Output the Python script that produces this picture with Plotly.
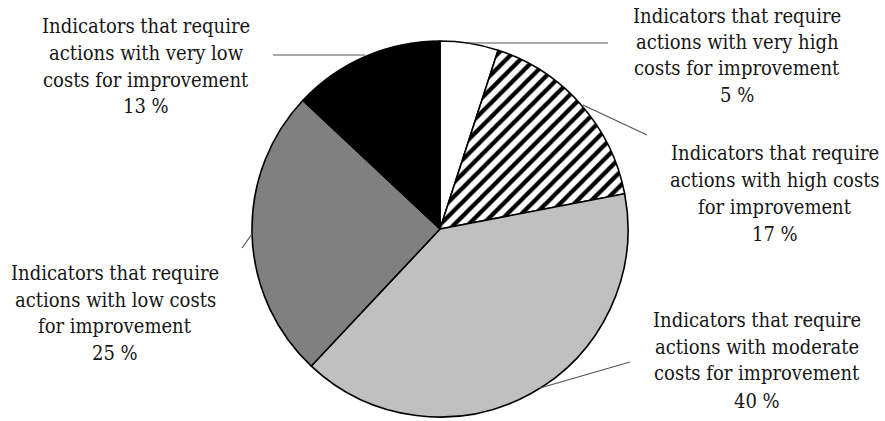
import plotly.graph_objects as go

# ---- data ----
categories = [
    "Indicators that require actions with very high costs for improvement",
    "Indicators that require actions with high costs for improvement",
    "Indicators that require actions with moderate costs for improvement",
    "Indicators that require actions with low costs for improvement",
    "Indicators that require actions with very low costs for improvement",
]
values = [5, 17, 40, 25, 13]
label_lines = [
    ["Indicators that require", "actions with very high", "costs for improvement"],
    ["Indicators that require", "actions with high costs", "for improvement"],
    ["Indicators that require", "actions with moderate", "costs for improvement"],
    ["Indicators that require", "actions with low costs", "for improvement"],
    ["Indicators that require", "actions with very low", "costs for improvement"],
]

# ---- styles / positions ----
W, H = 885, 421
colors = ["#ffffff", "#ffffff", "#c0c0c0", "#808080", "#000000"]
patterns = ["", "/", "", "", ""]
cx, cy, r = 440, 229, 188
# label block centre x and line centre ys (pixels)
label_pos = [
    (737, [16, 42, 68, 95]),
    (775, [153, 180, 207, 234]),
    (757, [320, 347, 373, 401]),
    (115, [273, 300, 326, 353]),
    (146, [26, 53, 80, 106]),
]
leaders = [
    ((469, 43), (608, 43)),
    ((583, 105), (647, 135)),
    ((540, 388), (630, 362)),
    ((252, 234), (242, 248)),
    ((273, 55), (365, 55)),
]

def px(x):
    return x / W

def py(y):
    return 1 - y / H

fig = go.Figure(go.Pie(
    values=values,
    labels=categories,
    sort=False,
    direction="clockwise",
    rotation=0,
    textinfo="none",
    hoverinfo="skip",
    showlegend=False,
    marker=dict(
        colors=colors,
        line=dict(color="#000000", width=1.6),
        pattern=dict(shape=patterns, fgcolor="#000000", size=10, solidity=0.42),
    ),
    domain=dict(x=[px(cx - r), px(cx + r)], y=[py(cy + r), py(cy - r)]),
))

font = dict(family="DejaVu Serif Condensed", size=20, color="#151515")
annotations = []
for lines, v, (x, ys) in zip(label_lines, values, label_pos):
    for txt, y in zip(lines + [f"{v} %"], ys):
        annotations.append(dict(
            x=px(x), y=py(y), xref="paper", yref="paper",
            text=txt, showarrow=False, xanchor="center", yanchor="middle",
            font=font,
        ))

shapes = []
for (x0, y0), (x1, y1) in leaders:
    shapes.append(dict(type="line", xref="paper", yref="paper",
                       x0=px(x0), y0=py(y0), x1=px(x1), y1=py(y1),
                       line=dict(color="#555555", width=1.2)))

fig.update_layout(
    width=W, height=H,
    margin=dict(l=0, r=0, t=0, b=0),
    paper_bgcolor="#ffffff",
    plot_bgcolor="#ffffff",
    annotations=annotations,
    shapes=shapes,
)

fig.write_html("out.html")
